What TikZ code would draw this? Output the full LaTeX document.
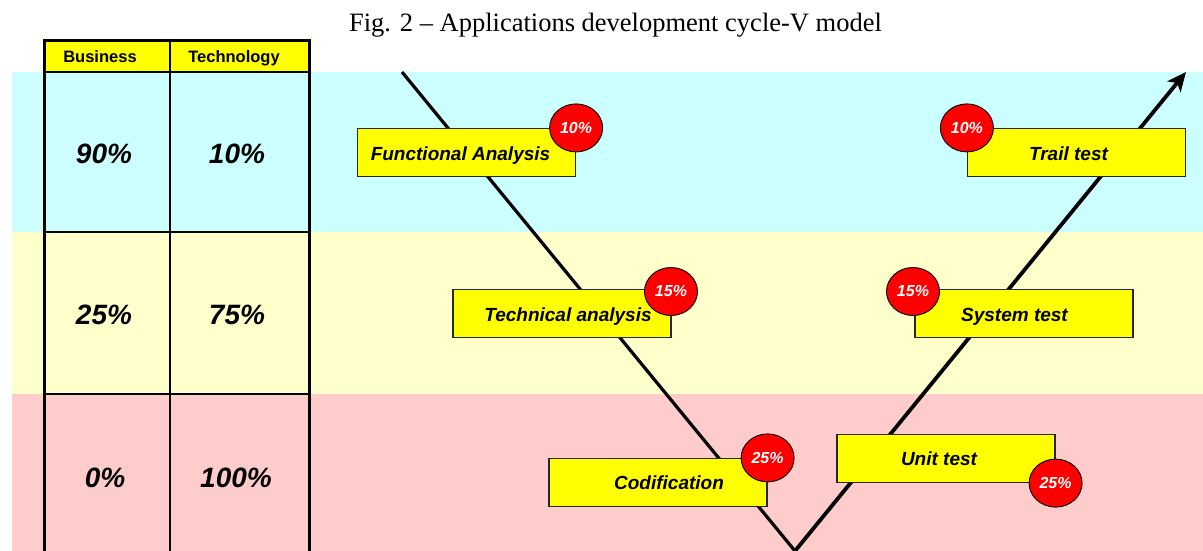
\documentclass[tikz,border=0pt]{standalone}
\usepackage{fontspec}
\setmainfont{Liberation Serif}
\setsansfont{Liberation Sans}
\usetikzlibrary{arrows.meta,shapes.geometric}
\definecolor{bandcyan}{HTML}{CCFFFF}
\definecolor{bandcream}{HTML}{FFFFCC}
\definecolor{bandpink}{HTML}{FFCCCC}
\definecolor{boxyellow}{HTML}{FFFF00}
\definecolor{badgered}{HTML}{FF0000}

\begin{document}
\begin{tikzpicture}[x=1pt,y=-1pt,
  stage/.style={draw=black!85, line width=1.2pt, fill=boxyellow,
    minimum width=218pt, minimum height=48pt, inner sep=0pt},
  stagetext/.style={anchor=base, inner sep=0pt,
    font=\sffamily\bfseries\itshape\fontsize{19}{22}\selectfont},
  badge/.style={ellipse, draw=black, line width=0.9pt, fill=badgered,
    minimum width=53pt, minimum height=48pt, inner sep=0pt, text=white,
    font=\sffamily\bfseries\itshape\fontsize{16}{18}\selectfont},
  share/.style={inner sep=0pt,
    font=\sffamily\bfseries\itshape\fontsize{28}{32}\selectfont},
  colhead/.style={anchor=base, inner sep=0pt,
    font=\sffamily\bfseries\fontsize{16.5}{18}\selectfont},
  vline/.style={line width=3.2pt, line cap=butt},
]
\useasboundingbox (0,0) rectangle (1203,550);

% background bands
\fill[bandcyan]  (12,72)  rectangle (1203,232);
\fill[bandcream] (12,232) rectangle (1203,394);
\fill[bandpink]  (12,394) rectangle (1203,552);

% caption
\node[anchor=base, inner sep=0pt, font=\fontsize{26.5}{30}\selectfont]
  (caption) at (615.5,31) {Fig. 2 -- Applications development cycle-V model};

% share table
\fill[boxyellow] (44,40) rectangle (309,72);
\draw[line width=1.4pt] (44,72) -- (309,72) (44,232) -- (309,232)
  (44,394) -- (309,394) (170,40) -- (170,552);
\draw[line width=3pt] (44,553) -- (44,40) -- (309,40) -- (309,553);
\node[colhead] (hbus)  at (100,62.5) {Business};
\node[colhead] (htech) at (234,62.5) {Technology};
\node[share] (b1) at (104,154) {90\%};
\node[share] (t1) at (237,154) {10\%};
\node[share] (b2) at (104,315) {25\%};
\node[share] (t2) at (237,315) {75\%};
\node[share] (b3) at (105,478) {0\%};
\node[share] (t3) at (236,478) {100\%};

% the V
\coordinate (vstart) at (402,72);
\coordinate (vbottom) at (795,551);
\coordinate (vend) at (1186,72);
\draw[vline] (vstart) -- (vbottom);
\draw[vline, line width=3.8pt, -{Stealth[length=19pt,width=17pt,inset=5pt]}]
  (vbottom) -- (vend);

% stages
\node[stage] (fa) at (466.5,152.5) {};
\node[stagetext] at (460.5,160) {Functional Analysis};
\node[stage] (ta) at (562,313.5) {};
\node[stagetext] at (568,321) {Technical analysis};
\node[stage] (cod) at (658,482.5) {};
\node[stagetext] at (669,489) {Codification};
\node[stage] (ut) at (946,458.5) {};
\node[stagetext] at (939,465) {Unit test};
\node[stage] (st) at (1024,313.5) {};
\node[stagetext] at (1014.5,321) {System test};
\node[stage] (tt) at (1076.5,152.5) {};
\node[stagetext] at (1068.5,160) {Trail test};

% effort badges
\node[badge] (pfa) at (fa.north east) {10\%};
\node[badge] (pta) at (671,291.5) {15\%};
\node[badge] (pcod) at (cod.north east) {25\%};
\node[badge] (put) at (ut.south east) {25\%};
\node[badge] (pst) at (913,291.5) {15\%};
\node[badge] (ptt) at (tt.north west) {10\%};
\end{tikzpicture}
\end{document}
